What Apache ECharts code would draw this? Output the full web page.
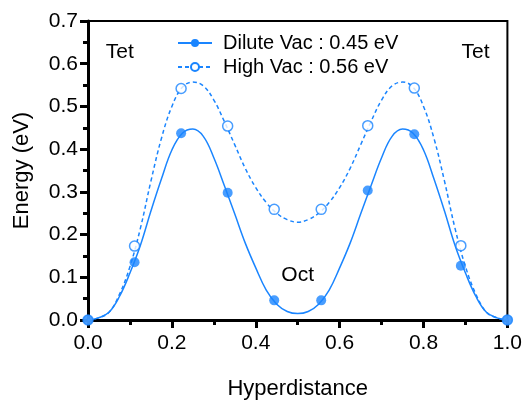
<!DOCTYPE html>
<html><head><meta charset="utf-8">
<script src="https://cdn.jsdelivr.net/npm/echarts@6/dist/echarts.min.js"></script>
<style>html,body{margin:0;padding:0;background:#fff}#c{width:525px;height:405px}</style>
</head><body><div id="c"></div>
<script>
// measured points (x = hyperdistance)
const pointX = [0, 0.111, 0.222, 0.333, 0.444, 0.556, 0.667, 0.778, 0.889, 1.0];
const diluteVals = [0, 0.135, 0.437, 0.298, 0.046, 0.046, 0.303, 0.435, 0.127, 0];
const highVals = [0, 0.173, 0.542, 0.454, 0.259, 0.259, 0.455, 0.543, 0.174, 0];
// fitted curves
const curveX = [0, 0.025, 0.05, 0.075, 0.1, 0.125, 0.15, 0.175, 0.2, 0.225, 0.25, 0.275, 0.3, 0.325, 0.35, 0.375, 0.4, 0.425, 0.45, 0.475, 0.5,
  0.525, 0.55, 0.575, 0.6, 0.625, 0.65, 0.675, 0.7, 0.725, 0.75, 0.775, 0.8, 0.825, 0.85, 0.875, 0.9, 0.925, 0.95, 0.975, 1.0];
const diluteCurve = [0, 0.005, 0.018, 0.055, 0.11, 0.175, 0.255, 0.33, 0.398, 0.437, 0.447, 0.43, 0.38, 0.315, 0.248, 0.18, 0.122, 0.07, 0.037, 0.02, 0.015,
  0.02, 0.037, 0.07, 0.122, 0.18, 0.248, 0.315, 0.38, 0.43, 0.447, 0.437, 0.398, 0.33, 0.255, 0.175, 0.11, 0.055, 0.018, 0.005, 0];
const highCurve = [0, 0.005, 0.018, 0.06, 0.125, 0.215, 0.325, 0.425, 0.5, 0.545, 0.557, 0.548, 0.515, 0.465, 0.41, 0.355, 0.31, 0.275, 0.25, 0.235, 0.229,
  0.235, 0.25, 0.275, 0.31, 0.355, 0.41, 0.465, 0.515, 0.548, 0.557, 0.545, 0.5, 0.425, 0.325, 0.215, 0.125, 0.06, 0.018, 0.005, 0];
const xTicks = [0, 0.2, 0.4, 0.6, 0.8, 1.0];
const yTicks = [0, 0.1, 0.2, 0.3, 0.4, 0.5, 0.6, 0.7];
const seriesNames = ['Dilute Vac : 0.45 eV', 'High Vac : 0.56 eV'];
const labelTexts = ['Tet', 'Tet', 'Oct'];
const labelX = [0.076, 0.924, 0.5];
const labelY = [0.628, 0.628, 0.106];

const blue = '#1a85ff';
const font = 'Liberation Sans, Arial, sans-serif';
const zip = (a, b) => a.map((v, i) => [v, b[i]]);
const chart = echarts.init(document.getElementById('c'), null, {renderer: 'canvas'});
chart.setOption({
  animation: false,
  grid: {left: 88, right: 16, top: 21, bottom: 81, show: true, borderColor: '#000', borderWidth: 2, backgroundColor: 'transparent'},
  legend: {
    data: seriesNames, orient: 'vertical', left: 172, top: 28, itemGap: 4, itemWidth: 34, itemHeight: 10,
    textStyle: {fontFamily: font, fontSize: 20, color: '#000', padding: [0, 0, 0, 6]}
  },
  xAxis: {
    type: 'value', min: 0, max: 1, interval: 0.2, name: 'Hyperdistance', nameLocation: 'middle', nameGap: 58,
    nameTextStyle: {fontFamily: font, fontSize: 22, color: '#000'},
    axisLine: {lineStyle: {color: '#000', width: 3}},
    axisTick: {length: 8, lineStyle: {width: 3, color: '#000'}},
    minorTick: {show: true, splitNumber: 2, length: 5, lineStyle: {width: 3, color: '#000'}},
    splitLine: {show: false},
    axisLabel: {fontFamily: font, fontSize: 21, color: '#000', margin: 13, formatter: v => xTicks.includes(+v.toFixed(1)) ? v.toFixed(1) : ''}
  },
  yAxis: {
    type: 'value', min: 0, max: 0.7, interval: 0.1, name: 'Energy (eV)', nameLocation: 'middle', nameGap: 55,
    nameTextStyle: {fontFamily: font, fontSize: 22, color: '#000'},
    axisLine: {lineStyle: {color: '#000', width: 3}},
    axisTick: {length: 8, lineStyle: {width: 3, color: '#000'}},
    minorTick: {show: true, splitNumber: 2, length: 5, lineStyle: {width: 3, color: '#000'}},
    splitLine: {show: false},
    axisLabel: {fontFamily: font, fontSize: 21, color: '#000', margin: 10, formatter: v => yTicks.includes(+v.toFixed(1)) ? v.toFixed(1) : ''}
  },
  series: [
    {name: seriesNames[0], type: 'line', data: zip(curveX, diluteCurve), smooth: 0.4, symbol: 'circle', symbolSize: 9, showSymbol: false,
      itemStyle: {color: blue}, lineStyle: {color: blue, width: 1.5}, z: 2},
    {name: seriesNames[1], type: 'line', data: zip(curveX, highCurve), smooth: 0.4, symbol: 'emptyCircle', symbolSize: 9, showSymbol: false,
      itemStyle: {color: blue, borderColor: blue, borderWidth: 1.5}, lineStyle: {color: blue, width: 1.5, type: [4, 3]}, z: 2},
    {type: 'scatter', data: zip(pointX, diluteVals), symbol: 'circle', symbolSize: 10, itemStyle: {color: blue}, z: 4},
    {type: 'scatter', data: zip(pointX, highVals), symbol: 'circle', symbolSize: 10, itemStyle: {color: '#fff', borderColor: blue, borderWidth: 1.5}, z: 3}
  ]
});
chart.setOption({
  graphic: labelTexts.map((t, i) => {
    const p = chart.convertToPixel({gridIndex: 0}, [labelX[i], labelY[i]]);
    return {type: 'text', x: p[0], y: p[1], z: 10, silent: true,
      style: {text: t, fill: '#000', font: '21px ' + font, textAlign: 'center', textVerticalAlign: 'middle'}};
  })
});
</script></body></html>
